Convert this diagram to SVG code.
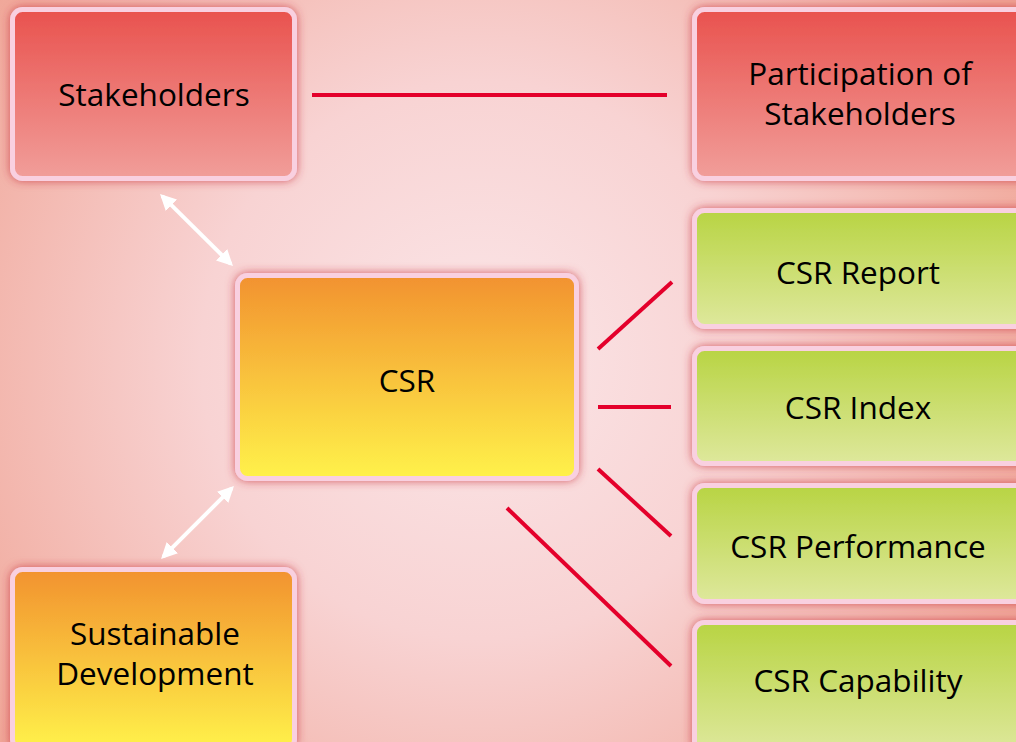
<svg xmlns="http://www.w3.org/2000/svg" width="1016" height="742" viewBox="0 0 1016 742">
<defs>
<radialGradient id="bg" cx="480" cy="360" r="620" gradientUnits="userSpaceOnUse">
<stop offset="0" stop-color="#fbe6e8"/>
<stop offset="0.45" stop-color="#f8d3d3"/>
<stop offset="1" stop-color="#f0a596"/>
</radialGradient>
<linearGradient id="gRed" x1="0" y1="0" x2="0" y2="1">
<stop offset="0" stop-color="#e9524e"/>
<stop offset="1" stop-color="#f19e9a"/>
</linearGradient>
<linearGradient id="gOrange" x1="0" y1="0" x2="0" y2="1">
<stop offset="0" stop-color="#f2922f"/>
<stop offset="1" stop-color="#fff24a"/>
</linearGradient>
<linearGradient id="gGreen" x1="0" y1="0" x2="0" y2="1">
<stop offset="0" stop-color="#b8d443"/>
<stop offset="1" stop-color="#dee89c"/>
</linearGradient>
<filter id="glow" x="-20%" y="-20%" width="140%" height="140%">
<feGaussianBlur in="SourceAlpha" stdDeviation="5" result="b"/>
<feFlood flood-color="#c8303c" flood-opacity="0.75"/>
<feComposite in2="b" operator="in" result="s"/>
<feMerge><feMergeNode in="s"/><feMergeNode in="SourceGraphic"/></feMerge>
</filter>
<marker id="wh" viewBox="0 0 10 10" refX="8" refY="5" markerWidth="4" markerHeight="4" orient="auto-start-reverse" markerUnits="strokeWidth">
<path d="M0,0 L10,5 L0,10 z" fill="#ffffff"/>
</marker>
</defs>
<style>
.box{stroke:#f9d0e0;stroke-width:5;filter:url(#glow)}
.lbl{font-family:"Open Sans","Noto Sans","Liberation Sans",sans-serif;font-size:31.5px;fill:#000;text-anchor:middle}
.red{stroke:#e4002b;stroke-width:4;fill:none}
.wht{stroke:#ffffff;stroke-width:4;fill:none}
</style>
<rect width="1016" height="742" fill="url(#bg)"/>
<g id="connectors">
<line class="red" x1="312" y1="95" x2="667" y2="95"/>
<line class="red" x1="598" y1="349" x2="672" y2="282"/>
<line class="red" x1="598" y1="407" x2="671" y2="407"/>
<line class="red" x1="598" y1="469" x2="671" y2="536"/>
<line class="red" x1="507" y1="508" x2="671" y2="666"/>
<line class="wht" x1="162.3" y1="196.2" x2="230.7" y2="263.8" marker-start="url(#wh)" marker-end="url(#wh)"/>
<line class="wht" x1="231.7" y1="488.3" x2="163.3" y2="556.7" marker-start="url(#wh)" marker-end="url(#wh)"/>
</g>
<g id="stakeholders">
<rect class="box" x="12.5" y="9.5" width="282" height="169" rx="10" fill="url(#gRed)"/>
<text class="lbl" x="154" y="106">Stakeholders</text>
</g>
<g id="participation">
<rect class="box" x="694.5" y="9.5" width="360" height="169" rx="10" fill="url(#gRed)"/>
<text class="lbl" x="860" y="85">Participation of</text>
<text class="lbl" x="860" y="124.5">Stakeholders</text>
</g>
<g id="csr">
<rect class="box" x="237.5" y="275.5" width="339" height="203" rx="10" fill="url(#gOrange)"/>
<text class="lbl" x="407" y="392">CSR</text>
</g>
<g id="sustainable">
<rect class="box" x="12.5" y="569.5" width="282" height="180" rx="10" fill="url(#gOrange)"/>
<text class="lbl" x="155" y="645">Sustainable</text>
<text class="lbl" x="155" y="685">Development</text>
</g>
<g id="csr-report">
<rect class="box" x="694.5" y="210.5" width="360" height="116" rx="10" fill="url(#gGreen)"/>
<text class="lbl" x="858" y="284">CSR Report</text>
</g>
<g id="csr-index">
<rect class="box" x="694.5" y="348.5" width="360" height="115" rx="10" fill="url(#gGreen)"/>
<text class="lbl" x="858" y="419">CSR Index</text>
</g>
<g id="csr-performance">
<rect class="box" x="694.5" y="485.5" width="360" height="116" rx="10" fill="url(#gGreen)"/>
<text class="lbl" x="858" y="558">CSR Performance</text>
</g>
<g id="csr-capability">
<rect class="box" x="694.5" y="622.5" width="360" height="130" rx="10" fill="url(#gGreen)"/>
<text class="lbl" x="858" y="692">CSR Capability</text>
</g>
</svg>
